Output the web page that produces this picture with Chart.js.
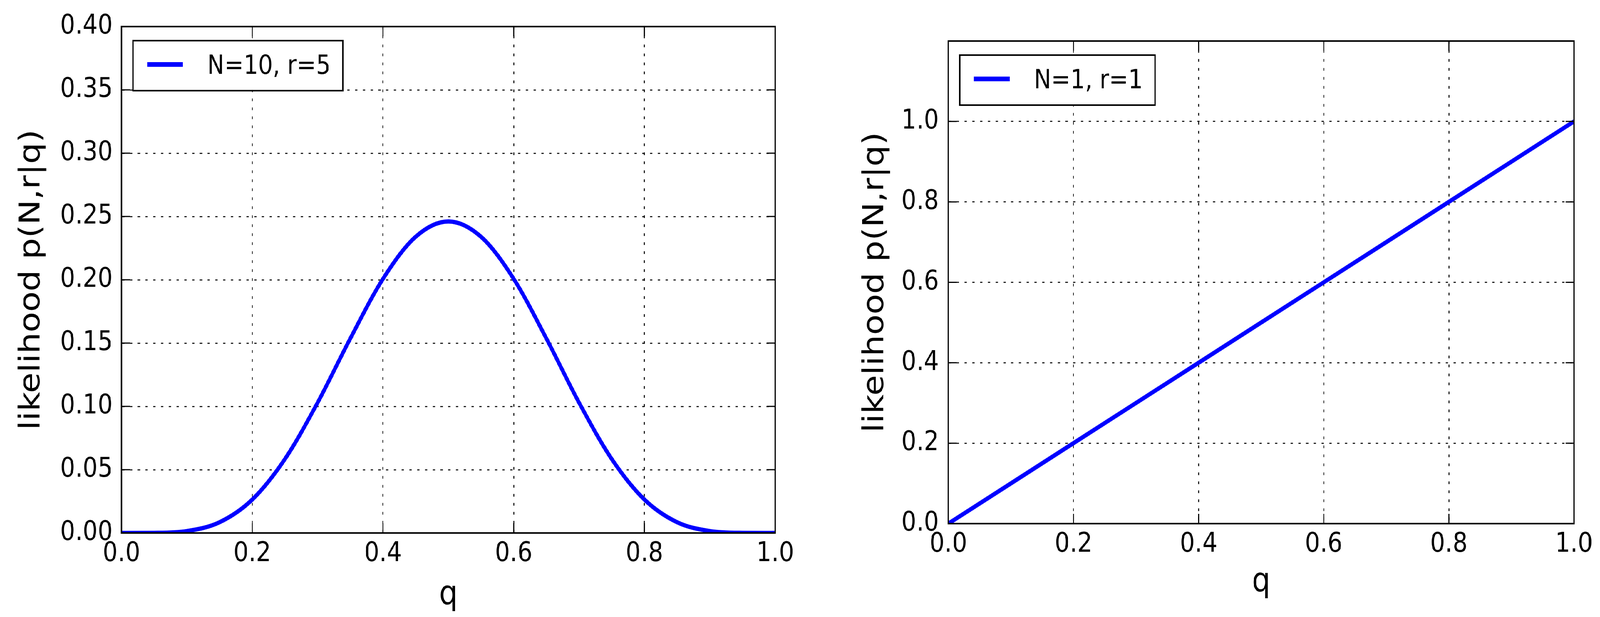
<!DOCTYPE html>
<html>
<head>
<meta charset="utf-8">
<title>likelihood p(N,r|q)</title>
<script src="https://cdn.jsdelivr.net/npm/chart.js@4/dist/chart.umd.min.js"></script>
<style>
    html, body { margin: 0; padding: 0; background: #fff; overflow: hidden; }
    #page { position: absolute; left: 0; top: 0; width: 4741px; height: 1579px; transform-origin: 0 0; }
    .panel { position: absolute; top: 0; height: 1579px; }
    #left-panel { left: 0; width: 2400px; }
    #right-panel { left: 2400px; width: 2341px; }
</style>
</head>
<body>
<div id="page">
    <div class="panel" id="left-panel"><canvas id="left-chart"></canvas></div>
    <div class="panel" id="right-panel"><canvas id="right-chart"></canvas></div>
</div>
<script>
// Values
const qLeft = [0, 0.05, 0.1, 0.15, 0.2, 0.25, 0.3, 0.35, 0.4, 0.45, 0.5,
               0.55, 0.6, 0.65, 0.7, 0.75, 0.8, 0.85, 0.9, 0.95, 1];
const likelihoodLeft = [0, 0.0001, 0.0015, 0.0085, 0.0264, 0.0584, 0.1029, 0.1536, 0.2007, 0.2340, 0.2461,
                        0.2340, 0.2007, 0.1536, 0.1029, 0.0584, 0.0264, 0.0085, 0.0015, 0.0001, 0];

const qRight = [0, 0.1, 0.2, 0.3, 0.4, 0.5, 0.6, 0.7, 0.8, 0.9, 1];
const likelihoodRight = [0, 0.1, 0.2, 0.3, 0.4, 0.5, 0.6, 0.7, 0.8, 0.9, 1];

const xTicks = [0, 0.2, 0.4, 0.6, 0.8, 1.0];
const yTicksLeft = [0, 0.05, 0.1, 0.15, 0.2, 0.25, 0.3, 0.35, 0.4];
const yTicksRight = [0, 0.2, 0.4, 0.6, 0.8, 1.0];

const legendLeft = 'N=10, r=5';
const legendRight = 'N=1, r=1';
const yTitle = 'likelihood p(N,r|q)';
const xTitle = 'q';

const FONT = '"DejaVu Sans", "Liberation Sans", sans-serif';
const BLUE = '#0000ff';

// Frame, inward ticks and a matplotlib-like legend box
const framePlugin = {
    id: 'frame',
    afterDraw(chart) {
        const { ctx, chartArea: a, scales } = chart;
        const x = scales.x, y = scales.y;
        ctx.save();
        ctx.strokeStyle = '#000';
        ctx.lineWidth = 3;
        ctx.beginPath();
        x.ticks.forEach(t => {
            const px = x.getPixelForValue(t.value);
            ctx.moveTo(px, a.bottom); ctx.lineTo(px, a.bottom - 25);
            ctx.moveTo(px, a.top); ctx.lineTo(px, a.top + 25);
        });
        y.ticks.forEach(t => {
            const py = y.getPixelForValue(t.value);
            ctx.moveTo(a.left, py); ctx.lineTo(a.left + 25, py);
            ctx.moveTo(a.right, py); ctx.lineTo(a.right - 25, py);
        });
        ctx.stroke();

        ctx.lineWidth = 4;
        ctx.strokeRect(a.left, a.top, a.right - a.left, a.bottom - a.top);

        // legend
        const ds = chart.data.datasets[0];
        ctx.font = '68px ' + FONT;
        const tw = ctx.measureText(ds.label).width;
        const bx = a.left + 34, by = a.top + 36;
        const bw = 220 + tw + 36, bh = 128;
        ctx.fillStyle = '#fff';
        ctx.fillRect(bx, by, bw, bh);
        ctx.strokeRect(bx, by, bw, bh);
        ctx.strokeStyle = ds.borderColor;
        ctx.lineWidth = 12;
        ctx.beginPath();
        ctx.moveTo(bx + 42, by + 61);
        ctx.lineTo(bx + 148, by + 61);
        ctx.stroke();
        ctx.fillStyle = '#000';
        ctx.textBaseline = 'alphabetic';
        ctx.textAlign = 'left';
        ctx.fillText(ds.label, bx + 220, by + 85);
        ctx.restore();
    }
};

function gridOptions() {
    return {
        color: 'rgba(0,0,0,0.85)',
        lineWidth: 3,
        drawTicks: false
    };
}

// Fit the 4741x1579 drawing into whatever viewport the browser really has
function fitPage() {
    const sx = window.innerWidth / 4741;
    const sy = window.innerHeight / 1579;
    document.getElementById('page').style.transform = 'scale(' + sx + ',' + sy + ')';
}

function createPanel(canvasId, q, values, label, cfg) {
    const points = q.map((v, i) => ({ x: v, y: values[i] }));
    return new Chart(document.getElementById(canvasId), {
        type: 'line',
        data: {
            datasets: [{
                label: label,
                data: points,
                borderColor: BLUE,
                borderWidth: 11,
                pointRadius: 0,
                fill: false,
                cubicInterpolationMode: cfg.smooth ? 'monotone' : 'default',
                tension: 0
            }]
        },
        options: {
            responsive: true,
            maintainAspectRatio: false,
            devicePixelRatio: 1,
            animation: false,
            layout: { padding: cfg.padding },
            plugins: {
                legend: { display: false },
                tooltip: { enabled: false }
            },
            scales: {
                x: {
                    type: 'linear',
                    min: 0,
                    max: 1,
                    afterBuildTicks: s => { s.ticks = xTicks.map(v => ({ value: v })); },
                    afterFit: s => { s.height = cfg.xHeight; },
                    grid: gridOptions(),
                    border: { display: true, color: '#000', width: 4, dash: [7, 16] },
                    ticks: {
                        color: '#000',
                        padding: 12,
                        maxRotation: 0,
                        font: { family: FONT, size: 70 },
                        callback: v => v.toFixed(1)
                    },
                    title: {
                        display: true,
                        text: xTitle,
                        color: '#000',
                        font: { family: FONT, size: 86 },
                        padding: { top: 0, bottom: cfg.xTitlePad }
                    }
                },
                y: {
                    type: 'linear',
                    min: 0,
                    max: cfg.yMax,
                    afterBuildTicks: s => { s.ticks = cfg.yTicks.map(v => ({ value: v })); },
                    afterFit: s => { s.width = cfg.yWidth; },
                    grid: gridOptions(),
                    border: { display: true, color: '#000', width: 4, dash: [7, 16] },
                    ticks: {
                        color: '#000',
                        padding: cfg.yTickPad,
                        font: { family: FONT, size: 70 },
                        callback: v => v.toFixed(cfg.yDigits)
                    },
                    title: {
                        display: true,
                        text: yTitle,
                        color: '#000',
                        font: { family: FONT, size: 86 },
                        padding: { top: cfg.yTitlePad, bottom: 0 }
                    }
                }
            }
        },
        plugins: [framePlugin]
    });
}

document.addEventListener('DOMContentLoaded', function () {
    fitPage();
    createPanel('left-chart', qLeft, likelihoodLeft, legendLeft, {
        smooth: true,
        padding: { left: 0, top: 68, right: 103, bottom: 0 },
        xHeight: 215,
        yWidth: 360,
        yMax: 0.4,
        yTicks: yTicksLeft,
        yDigits: 2,
        yTickPad: 26,
        yTitlePad: 43,
        xTitlePad: 4
    });
    createPanel('right-chart', qRight, likelihoodRight, legendRight, {
        smooth: false,
        padding: { left: 0, top: 105, right: 77, bottom: 0 },
        xHeight: 239,
        yWidth: 410,
        yMax: 1.2,
        yTicks: yTicksRight,
        yDigits: 1,
        yTickPad: 28,
        yTitlePad: 143,
        xTitlePad: 37
    });
});
</script>
</body>
</html>
